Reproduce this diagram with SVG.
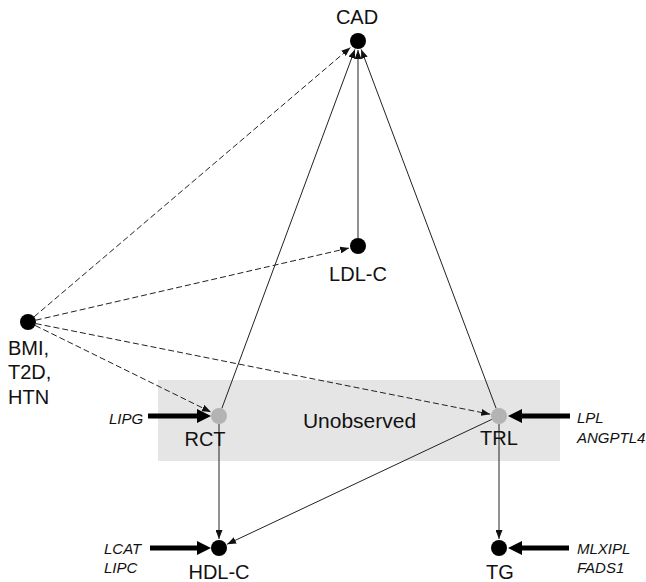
<svg xmlns="http://www.w3.org/2000/svg" width="646" height="582" viewBox="0 0 646 582">
<style>
text{font-family:"Liberation Sans",Arial,sans-serif;fill:#111}
.lbl{font-size:20px}
.gene{font-size:15px;font-style:italic}
.thin{stroke:#222;stroke-width:1;fill:none;marker-end:url(#ah)}
.dash{stroke-dasharray:6,3}
.thick{stroke:#000;stroke-width:5;fill:none;marker-end:url(#ahb)}
.obs{fill:#000}
.unobs{fill:#b3b3b3}
</style>
<defs>
<marker id="ah" markerUnits="userSpaceOnUse" markerWidth="9" markerHeight="7" refX="9" refY="3.5" orient="auto">
<path d="M0,0 L9,3.5 L0,7 z" fill="#111"/>
</marker>
<marker id="ahb" markerUnits="userSpaceOnUse" markerWidth="14" markerHeight="14" refX="2" refY="7" orient="auto">
<path d="M0,0 L14,7 L0,14 z" fill="#000"/>
</marker>
</defs>
<rect id="unobserved-box" x="158" y="380" width="402" height="81" fill="#e5e5e5"/>
<text class="lbl" x="359.5" y="428" text-anchor="middle" font-size="21" style="font-size:21px">Unobserved</text>
<g id="connectors">
<line class="thin dash" x1="34.1" y1="316.8" x2="350.4" y2="47.5"/>
<line class="thin dash" x1="35.8" y1="320.2" x2="349.2" y2="248"/>
<line class="thin dash" x1="35.2" y1="325.5" x2="210.9" y2="412"/>
<line class="thin dash" x1="35.8" y1="323.6" x2="490.2" y2="414.2"/>
<line class="thin" x1="221.8" y1="408.5" x2="354.9" y2="49.4"/>
<line class="thin" x1="358" y1="238" x2="358" y2="50"/>
<line class="thin" x1="496.2" y1="408.5" x2="361.2" y2="49.4"/>
<line class="thin" x1="219" y1="424" x2="219" y2="539"/>
<line class="thin" x1="499" y1="424" x2="499" y2="539"/>
<line class="thin" x1="491.8" y1="419.4" x2="227.1" y2="544.2"/>
<line class="thick" x1="148" y1="416" x2="199" y2="416"/>
<line class="thick" x1="570" y1="416" x2="520" y2="416"/>
<line class="thick" x1="150" y1="548" x2="199" y2="548"/>
<line class="thick" x1="569" y1="548" x2="520" y2="548"/>
</g>
<g id="CAD">
<circle class="obs" cx="358" cy="41" r="8"/>
<text class="lbl" x="357" y="24" text-anchor="middle">CAD</text>
</g>
<g id="LDL-C">
<circle class="obs" cx="358" cy="246" r="8"/>
<text class="lbl" x="358" y="281" text-anchor="middle">LDL-C</text>
</g>
<g id="BMI">
<circle class="obs" cx="28" cy="322" r="8"/>
<text class="lbl" x="8" y="355">BMI,</text>
<text class="lbl" x="8" y="379">T2D,</text>
<text class="lbl" x="8" y="404">HTN</text>
</g>
<g id="RCT">
<circle class="unobs" cx="219" cy="416" r="8"/>
<text class="lbl" x="205" y="446" text-anchor="middle">RCT</text>
</g>
<g id="TRL">
<circle class="unobs" cx="499" cy="416" r="8"/>
<text class="lbl" x="499" y="445" text-anchor="middle">TRL</text>
</g>
<g id="HDL-C">
<circle class="obs" cx="219" cy="548" r="8"/>
<text class="lbl" x="219" y="579" text-anchor="middle">HDL-C</text>
</g>
<g id="TG">
<circle class="obs" cx="499" cy="548" r="8"/>
<text class="lbl" x="500" y="579" text-anchor="middle">TG</text>
</g>
<g id="LIPG">
<text class="gene" x="109" y="424">LIPG</text>
</g>
<g id="LPL-ANGPTL4">
<text class="gene" x="577" y="423">LPL</text>
<text class="gene" x="577" y="443">ANGPTL4</text>
</g>
<g id="LCAT-LIPC">
<text class="gene" x="104" y="554">LCAT</text>
<text class="gene" x="104" y="573">LIPC</text>
</g>
<g id="MLXIPL-FADS1">
<text class="gene" x="577" y="554">MLXIPL</text>
<text class="gene" x="577" y="573">FADS1</text>
</g>
</svg>
